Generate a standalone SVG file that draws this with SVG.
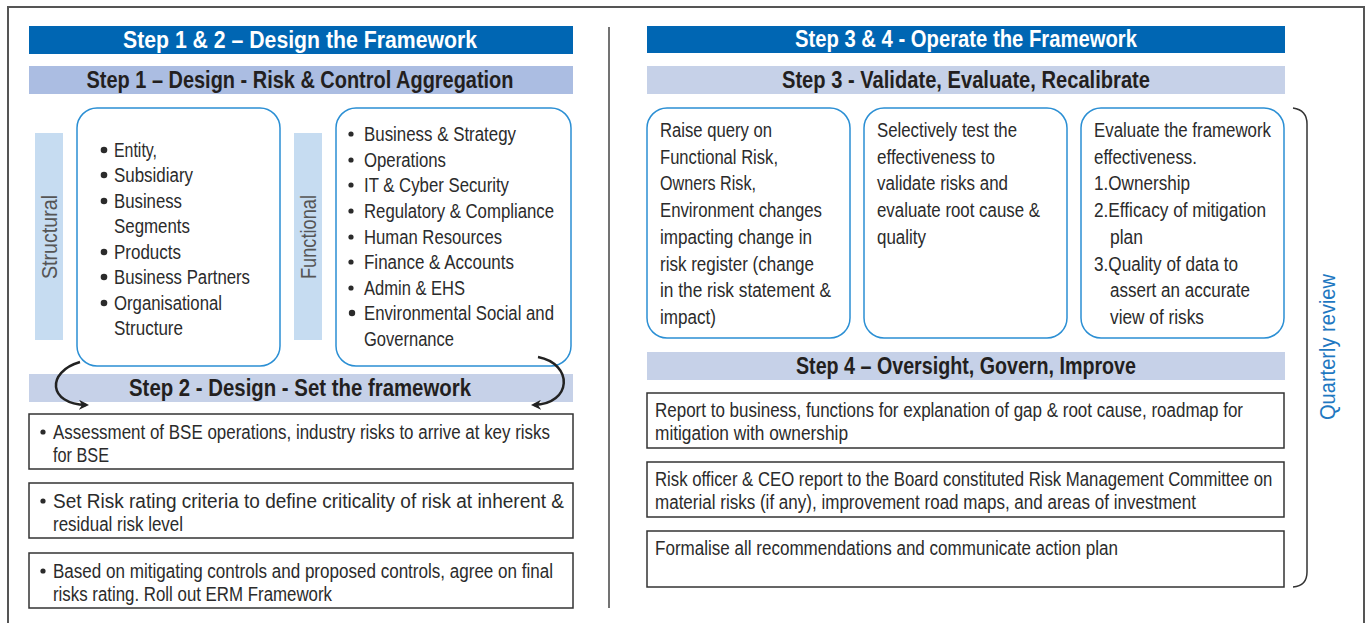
<svg xmlns="http://www.w3.org/2000/svg" width="1368" height="623" viewBox="0 0 1368 623">
  <style>
    .frame { fill: none; stroke: #555; stroke-width: 2; }
    .divider { stroke: #444; stroke-width: 1.5; }
    .hdr { fill: #0066b3; }
    .sub1 { fill: #abbde2; }
    .sub { fill: #c6d1e8; }
    .side { fill: #c6dcf1; }
    .rbox { fill: #fff; stroke: #2b8fd4; stroke-width: 1.5; }
    .sbox { fill: #fff; stroke: #333; stroke-width: 1.5; }
    text { font-family: "Liberation Sans", Arial, sans-serif; }
    .hdrtxt { font-weight: bold; font-size: 23px; fill: #fff; text-anchor: middle; }
    .subtxt { font-weight: bold; font-size: 23px; fill: #231f20; text-anchor: middle; }
    .body { font-size: 20px; fill: #2b2b2b; }
    .sidetxt { font-size: 22px; fill: #555; text-anchor: middle; }
    .qtxt { font-size: 22px; fill: #1f78c1; text-anchor: middle; }
    .dot { fill: #2b2b2b; }
    .conn { fill: none; stroke: #222; stroke-width: 2.5; }
    .bracket { fill: none; stroke: #333; stroke-width: 1.5; }
  </style>
  <defs>
    <marker id="arrow" viewBox="0 0 10 10" refX="7" refY="5" markerWidth="4" markerHeight="4" orient="auto">
      <path d="M0,0 L10,5 L0,10 L3,5 Z" fill="#222"/>
    </marker>
  </defs>

  <rect width="1368" height="623" fill="#fff"/>
  <!-- outer frame and centre divider -->
  <rect class="frame" x="8" y="7" width="1356" height="640"/>
  <line class="divider" x1="609" y1="27" x2="609" y2="608"/>

  <!-- Left half: design the framework -->
  <g id="hdr-design">
    <rect class="hdr" x="29" y="26" width="544" height="28"/>
    <text class="hdrtxt" x="300" y="48" textLength="354" lengthAdjust="spacingAndGlyphs">Step 1 &amp; 2 – Design the Framework</text>
  </g>
  <g id="hdr-step1">
    <rect class="sub1" x="29" y="66" width="544" height="28"/>
    <text class="subtxt" x="300" y="88" textLength="427" lengthAdjust="spacingAndGlyphs">Step 1 – Design - Risk &amp; Control Aggregation</text>
  </g>

  <g id="structural-label">
    <rect class="side" x="35" y="133" width="28" height="207"/>
    <text class="sidetxt" transform="translate(57,237) rotate(-90)" textLength="84" lengthAdjust="spacingAndGlyphs">Structural</text>
  </g>
  <g id="structural-box">
    <rect class="rbox" x="77" y="108" width="203" height="258" rx="20"/>
    <g class="dot">
      <circle cx="104" cy="150" r="3.3"/>
      <circle cx="104" cy="175" r="3.3"/>
      <circle cx="104" cy="201" r="3.3"/>
      <circle cx="104" cy="252" r="3.3"/>
      <circle cx="104" cy="277" r="3.3"/>
      <circle cx="104" cy="303" r="3.3"/>
    </g>
    <g class="body">
      <text x="114" y="157" textLength="43" lengthAdjust="spacingAndGlyphs">Entity,</text>
      <text x="114" y="182" textLength="79" lengthAdjust="spacingAndGlyphs">Subsidiary</text>
      <text x="114" y="208" textLength="68" lengthAdjust="spacingAndGlyphs">Business</text>
      <text x="114" y="233" textLength="76" lengthAdjust="spacingAndGlyphs">Segments</text>
      <text x="114" y="259" textLength="67" lengthAdjust="spacingAndGlyphs">Products</text>
      <text x="114" y="284" textLength="136" lengthAdjust="spacingAndGlyphs">Business Partners</text>
      <text x="114" y="310" textLength="108" lengthAdjust="spacingAndGlyphs">Organisational</text>
      <text x="114" y="335" textLength="69" lengthAdjust="spacingAndGlyphs">Structure</text>
    </g>
  </g>

  <g id="functional-label">
    <rect class="side" x="294" y="133" width="28" height="207"/>
    <text class="sidetxt" transform="translate(316,237) rotate(-90)" textLength="84" lengthAdjust="spacingAndGlyphs">Functional</text>
  </g>
  <g id="functional-box">
    <rect class="rbox" x="336" y="108" width="235" height="258" rx="20"/>
    <g class="dot">
      <circle cx="351" cy="134" r="2.6"/>
      <circle cx="351" cy="160" r="2.6"/>
      <circle cx="351" cy="185" r="2.6"/>
      <circle cx="351" cy="211" r="2.6"/>
      <circle cx="351" cy="237" r="2.6"/>
      <circle cx="351" cy="262" r="2.6"/>
      <circle cx="351" cy="288" r="2.6"/>
      <circle cx="352" cy="313" r="3.2"/>
    </g>
    <g class="body">
      <text x="364" y="141" textLength="152" lengthAdjust="spacingAndGlyphs">Business &amp; Strategy</text>
      <text x="364" y="167" textLength="82" lengthAdjust="spacingAndGlyphs">Operations</text>
      <text x="364" y="192" textLength="145" lengthAdjust="spacingAndGlyphs">IT &amp; Cyber Security</text>
      <text x="364" y="218" textLength="190" lengthAdjust="spacingAndGlyphs">Regulatory &amp; Compliance</text>
      <text x="364" y="244" textLength="138" lengthAdjust="spacingAndGlyphs">Human Resources</text>
      <text x="364" y="269" textLength="150" lengthAdjust="spacingAndGlyphs">Finance &amp; Accounts</text>
      <text x="364" y="295" textLength="101" lengthAdjust="spacingAndGlyphs">Admin &amp; EHS</text>
      <text x="364" y="320" textLength="190" lengthAdjust="spacingAndGlyphs">Environmental Social and</text>
      <text x="364" y="346" textLength="90" lengthAdjust="spacingAndGlyphs">Governance</text>
    </g>
  </g>

  <g id="hdr-step2">
    <rect class="sub" x="29" y="374" width="544" height="28"/>
    <text class="subtxt" x="300" y="396" textLength="342" lengthAdjust="spacingAndGlyphs">Step 2 - Design - Set the framework</text>
  </g>

  <g id="step2-a">
    <rect class="sbox" x="29" y="414" width="544" height="55"/>
    <circle class="dot" cx="43" cy="432" r="2.6"/>
    <text class="body" x="53" y="439" textLength="497" lengthAdjust="spacingAndGlyphs">Assessment of BSE operations, industry risks to arrive at key risks</text>
    <text class="body" x="53" y="462" textLength="56" lengthAdjust="spacingAndGlyphs">for BSE</text>
  </g>
  <g id="step2-b">
    <rect class="sbox" x="29" y="483" width="544" height="55"/>
    <circle class="dot" cx="43" cy="501" r="2.6"/>
    <text class="body" x="53" y="508" textLength="511" lengthAdjust="spacingAndGlyphs">Set Risk rating criteria to define criticality of risk at inherent &amp;</text>
    <text class="body" x="53" y="531" textLength="130" lengthAdjust="spacingAndGlyphs">residual risk level</text>
  </g>
  <g id="step2-c">
    <rect class="sbox" x="29" y="553" width="544" height="55"/>
    <circle class="dot" cx="43" cy="571" r="2.6"/>
    <text class="body" x="53" y="578" textLength="500" lengthAdjust="spacingAndGlyphs">Based on mitigating controls and proposed controls, agree on final</text>
    <text class="body" x="53" y="601" textLength="279" lengthAdjust="spacingAndGlyphs">risks rating. Roll out ERM Framework</text>
  </g>

  <!-- Right half: operate the framework -->
  <g id="hdr-operate">
    <rect class="hdr" x="647" y="26" width="638" height="27"/>
    <text class="hdrtxt" x="966" y="47" textLength="342" lengthAdjust="spacingAndGlyphs">Step 3 &amp; 4 - Operate the Framework</text>
  </g>
  <g id="hdr-step3">
    <rect class="sub" x="647" y="66" width="638" height="28"/>
    <text class="subtxt" x="966" y="88" textLength="368" lengthAdjust="spacingAndGlyphs">Step 3 - Validate, Evaluate, Recalibrate</text>
  </g>

  <g id="step3-query">
    <rect class="rbox" x="647" y="108" width="203" height="230" rx="20"/>
    <g class="body">
      <text x="660" y="137" textLength="112" lengthAdjust="spacingAndGlyphs">Raise query on</text>
      <text x="660" y="164" textLength="118" lengthAdjust="spacingAndGlyphs">Functional Risk,</text>
      <text x="660" y="190" textLength="96" lengthAdjust="spacingAndGlyphs">Owners Risk,</text>
      <text x="660" y="217" textLength="162" lengthAdjust="spacingAndGlyphs">Environment changes</text>
      <text x="660" y="244" textLength="152" lengthAdjust="spacingAndGlyphs">impacting change in</text>
      <text x="660" y="271" textLength="154" lengthAdjust="spacingAndGlyphs">risk register (change</text>
      <text x="660" y="297" textLength="171" lengthAdjust="spacingAndGlyphs">in the risk statement &amp;</text>
      <text x="660" y="324" textLength="56" lengthAdjust="spacingAndGlyphs">impact)</text>
    </g>
  </g>
  <g id="step3-test">
    <rect class="rbox" x="864" y="108" width="203" height="230" rx="20"/>
    <g class="body">
      <text x="877" y="137" textLength="140" lengthAdjust="spacingAndGlyphs">Selectively test the</text>
      <text x="877" y="164" textLength="118" lengthAdjust="spacingAndGlyphs">effectiveness to</text>
      <text x="877" y="190" textLength="131" lengthAdjust="spacingAndGlyphs">validate risks and</text>
      <text x="877" y="217" textLength="163" lengthAdjust="spacingAndGlyphs">evaluate root cause &amp;</text>
      <text x="877" y="244" textLength="49" lengthAdjust="spacingAndGlyphs">quality</text>
    </g>
  </g>
  <g id="step3-evaluate">
    <rect class="rbox" x="1081" y="108" width="203" height="230" rx="20"/>
    <g class="body">
      <text x="1094" y="137" textLength="177" lengthAdjust="spacingAndGlyphs">Evaluate the framework</text>
      <text x="1094" y="164" textLength="103" lengthAdjust="spacingAndGlyphs">effectiveness.</text>
      <text x="1094" y="190" textLength="96" lengthAdjust="spacingAndGlyphs">1.Ownership</text>
      <text x="1094" y="217" textLength="172" lengthAdjust="spacingAndGlyphs">2.Efficacy of mitigation</text>
      <text x="1110" y="244" textLength="33" lengthAdjust="spacingAndGlyphs">plan</text>
      <text x="1094" y="271" textLength="144" lengthAdjust="spacingAndGlyphs">3.Quality of data to</text>
      <text x="1110" y="297" textLength="140" lengthAdjust="spacingAndGlyphs">assert an accurate</text>
      <text x="1110" y="324" textLength="94" lengthAdjust="spacingAndGlyphs">view of risks</text>
    </g>
  </g>

  <g id="hdr-step4">
    <rect class="sub" x="647" y="352" width="638" height="28"/>
    <text class="subtxt" x="966" y="374" textLength="340" lengthAdjust="spacingAndGlyphs">Step 4 – Oversight, Govern, Improve</text>
  </g>
  <g id="step4-a">
    <rect class="sbox" x="647" y="393" width="637" height="55"/>
    <text class="body" x="655" y="417" textLength="588" lengthAdjust="spacingAndGlyphs">Report to business, functions for explanation of gap &amp; root cause, roadmap for</text>
    <text class="body" x="655" y="440" textLength="193" lengthAdjust="spacingAndGlyphs">mitigation with ownership</text>
  </g>
  <g id="step4-b">
    <rect class="sbox" x="647" y="462" width="637" height="55"/>
    <text class="body" transform="translate(655,486) scale(0.84,1)" textLength="735" lengthAdjust="spacingAndGlyphs">Risk officer &amp; CEO report to the Board constituted Risk Management Committee on</text>
    <text class="body" x="655" y="509" textLength="541" lengthAdjust="spacingAndGlyphs">material risks (if any), improvement road maps, and areas of investment</text>
  </g>
  <g id="step4-c">
    <rect class="sbox" x="647" y="531" width="637" height="56"/>
    <text class="body" x="655" y="555" textLength="463" lengthAdjust="spacingAndGlyphs">Formalise all recommendations and communicate action plan</text>
  </g>

  <g id="quarterly-review">
    <path class="bracket" d="M1293,108 Q1307,110 1307,124 L1307,572 Q1307,586 1293,587"/>
    <text class="qtxt" transform="translate(1335,347) rotate(-90)" textLength="146" lengthAdjust="spacingAndGlyphs">Quarterly review</text>
  </g>

  <!-- connectors: feedback from the aggregation boxes into step 2 -->
  <g id="connectors">
    <path class="conn" d="M80,362 C46,372 48,404 86,405" marker-end="url(#arrow)"/>
    <path class="conn" d="M538,357 C574,364 572,404 534,405" marker-end="url(#arrow)"/>
  </g>
</svg>
